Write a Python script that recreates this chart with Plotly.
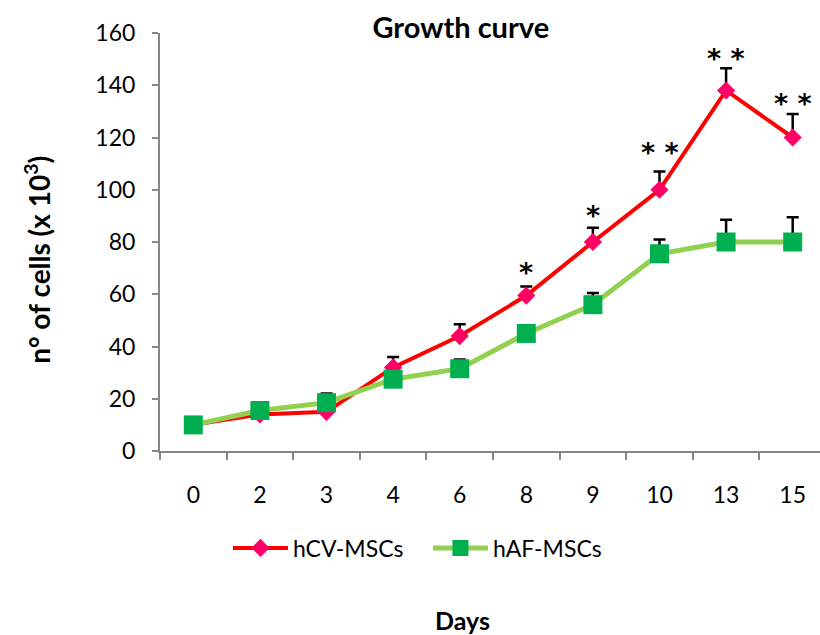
import plotly.graph_objects as go

# Growth curve of two MSC populations (cell counts x 10^3)
days = ["0", "2", "3", "4", "6", "8", "9", "10", "13", "15"]

hcv_mean = [10, 14, 15, 32, 44, 59.5, 80, 100, 138, 120]
hcv_err = [1, 2, 2, 4, 4.5, 3.5, 5.5, 7, 8.5, 9]

haf_mean = [10, 15.5, 18.5, 27.5, 31.5, 45, 56, 75.5, 80, 80]
haf_err = [1, 2, 3.5, 2, 3.5, 3, 4.5, 5.5, 8.5, 9.5]

# significance marks and the height at which each is written
sig_days = ["8", "9", "10", "13", "15"]
sig_text = ["*", "*", "* *", "* *", "* *"]
sig_y = [70.5, 92.5, 116.5, 152.5, 135.5]

FONT = "Lato"
STAR_FONT = "DejaVu Sans"

fig = go.Figure()

fig.add_trace(go.Scatter(
    x=days, y=hcv_mean, name="hCV-MSCs", mode="lines+markers",
    line=dict(color="#FF0000", width=4),
    marker=dict(symbol="diamond", size=14, color="#FF0066"),
    error_y=dict(type="data", symmetric=False, array=hcv_err,
                 arrayminus=[0] * len(hcv_err), color="black",
                 thickness=2.5, width=6),
))

fig.add_trace(go.Scatter(
    x=days, y=haf_mean, name="hAF-MSCs", mode="lines+markers",
    line=dict(color="#92D050", width=5),
    marker=dict(symbol="square", size=19, color="#00B050"),
    error_y=dict(type="data", symmetric=False, array=haf_err,
                 arrayminus=[0] * len(haf_err), color="black",
                 thickness=2.5, width=6),
))

# category positions are addressed by index so numeric-looking labels stay put
for d, t, yv in zip(sig_days, sig_text, sig_y):
    fig.add_annotation(x=days.index(d), y=yv, text=f"<b>{t}</b>", showarrow=False,
                       xref="x", yref="y", yanchor="middle", yshift=-6,
                       font=dict(family=STAR_FONT, size=27, color="black"))

# axis titles placed as free text
fig.add_annotation(text="<b>n° of cells (x 10<sup>3</sup>)</b>", textangle=-90,
                   xref="paper", yref="paper", x=-0.185, y=0.457,
                   xanchor="center", yanchor="middle", showarrow=False,
                   font=dict(family=FONT, size=28, color="black"))
fig.add_annotation(text="<b>Days</b>", xref="paper", yref="paper",
                   x=0.458, y=-0.405, xanchor="center", yanchor="middle",
                   showarrow=False, font=dict(family=FONT, size=25, color="black"))

fig.update_layout(
    width=820, height=635,
    margin=dict(l=160, r=0, t=33, b=184),
    paper_bgcolor="white", plot_bgcolor="white",
    font=dict(family=FONT, size=23, color="black"),
    title=dict(text="<b>Growth curve</b>", x=0.562, y=0.956,
               xanchor="center", yanchor="middle",
               font=dict(family=FONT, size=29, color="black")),
    showlegend=True,
    legend=dict(orientation="h", x=0.406, y=-0.232, xanchor="center",
                yanchor="middle", font=dict(family=FONT, size=23),
                itemwidth=55, entrywidth=130, bgcolor="rgba(0,0,0,0)"),
    xaxis=dict(type="category", range=[-0.5, 9.41], tickson="boundaries",
               showline=True, linecolor="#868686", linewidth=2,
               ticks="outside", ticklen=7, tickwidth=2, tickcolor="#868686",
               showgrid=False, zeroline=False, fixedrange=True,
               ticklabelstandoff=22, tickfont=dict(family=FONT, size=23)),
    yaxis=dict(range=[0, 160], dtick=20, showline=True, linecolor="#868686",
               linewidth=2, ticks="outside", ticklen=6, tickwidth=2,
               tickcolor="#868686", showgrid=False, zeroline=False,
               ticklabelstandoff=12, tickfont=dict(family=FONT, size=23)),
)

fig.write_html("out.html")
